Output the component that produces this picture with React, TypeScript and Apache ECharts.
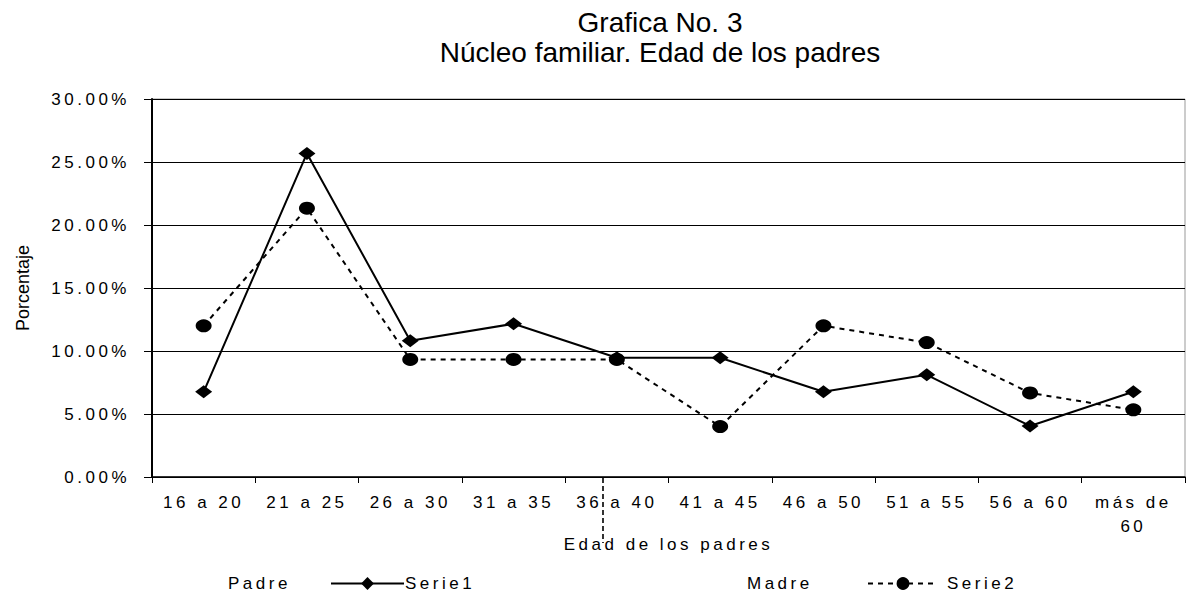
import React, { useEffect, useRef } from "react";
import * as echarts from "echarts";

const categories = ["16 a 20", "21 a 25", "26 a 30", "31 a 35", "36 a 40", "41 a 45", "46 a 50", "51 a 55", "56 a 60", "más de 60"];
const serie1 = [6.76, 25.68, 10.81, 12.16, 9.46, 9.46, 6.76, 8.11, 4.05, 6.76];
const serie2 = [12.0, 21.33, 9.33, 9.33, 9.33, 4.0, 12.0, 10.67, 6.67, 5.33];
const yMin = 0;
const yMax = 30;
const yStep = 5;
const titleLines = ["Grafica No. 3", "Núcleo familiar. Edad de los padres"];
const xAxisName = "Edad de los padres";
const yAxisName = "Porcentaje";
const legendLabels = ["Padre", "Madre"];
const seriesNames = ["Serie1", "Serie2"];

const SP = "'Liberation Sans', Arial, sans-serif";

export default function App() {
  const ref = useRef<HTMLDivElement>(null);
  useEffect(() => {
    if (!ref.current) return;
    const chart = echarts.init(ref.current, undefined, { renderer: "svg" });
    const lab = { fontSize: 17, color: "#000", fontFamily: SP };
    chart.setOption({
      animation: false,
      backgroundColor: "#fff",
      title: {
        text: titleLines.join("\n"),
        left: 655,
        top: 2,
        textAlign: "center",
        textStyle: { fontSize: 28, lineHeight: 30, fontWeight: "normal", color: "#000", fontFamily: "Arial, 'Liberation Sans', sans-serif" },
      },
      grid: { left: 152, right: 1, top: 99, bottom: 119, show: true, borderColor: "#999", borderWidth: 1, backgroundColor: "transparent" },
      legend: [
        {
          data: [seriesNames[0]],
          left: 330,
          top: 575,
          padding: 0,
          itemWidth: 73,
          itemHeight: 16,
          itemGap: 0,
          textStyle: { ...lab, padding: [0, 0, 0, -4] },
        },
        {
          data: [seriesNames[1]],
          left: 867,
          top: 575,
          padding: 0,
          itemWidth: 70,
          itemHeight: 16,
          itemGap: 0,
          textStyle: { ...lab, padding: [0, 0, 0, 4] },
        },
      ],
      xAxis: {
        type: "category",
        data: categories,
        boundaryGap: true,
        name: xAxisName,
        nameLocation: "middle",
        nameGap: 59,
        nameMoveOverlap: false,
        nameTextStyle: { ...lab },
        axisLine: { lineStyle: { color: "#000", width: 1.5 } },
        axisTick: { show: true, length: 6, lineStyle: { color: "#000" } },
        axisLabel: {
          ...lab,
          interval: 0,
          margin: 13,
          lineHeight: 24,
          formatter: (v: string) => v.replace("más de ", "más de\n"),
        },
      },
      yAxis: {
        type: "value",
        min: yMin,
        max: yMax,
        interval: yStep,
        name: yAxisName,
        nameLocation: "middle",
        nameRotate: 90,
        nameGap: 120,
        nameTextStyle: { fontSize: 18, color: "#000", fontFamily: "Arial, 'Liberation Sans', sans-serif" },
        axisLine: { show: true, lineStyle: { color: "#000", width: 2 } },
        axisTick: { show: true, length: 8, lineStyle: { color: "#000" } },
        axisLabel: { ...lab, margin: 22, formatter: (v: number) => v.toFixed(2) + "%" },
        splitLine: { show: true, lineStyle: { color: "#000", width: 1 } },
      },
      series: [
        {
          name: seriesNames[0],
          type: "line",
          data: serie1,
          symbol: "diamond",
          symbolSize: [17, 13],
          lineStyle: { color: "#000", width: 2 },
          itemStyle: { color: "#000" },
        },
        {
          name: seriesNames[1],
          type: "line",
          data: serie2,
          symbol: "circle",
          symbolSize: [16, 13],
          lineStyle: { color: "#000", width: 2, type: [5, 5] },
          itemStyle: { color: "#000" },
        },
      ],
      graphic: [
        {
          type: "text",
          left: 228,
          top: 575,
          style: { text: legendLabels[0], fontSize: 17, fill: "#000", fontFamily: SP },
        },
        {
          type: "text",
          left: 747,
          top: 575,
          style: { text: legendLabels[1], fontSize: 17, fill: "#000", fontFamily: SP },
        },
        {
          type: "line",
          shape: { x1: 603, y1: 478, x2: 603, y2: 543 },
          style: { stroke: "#000", lineWidth: 1.6, lineDash: [5, 3] },
        },
      ],
    });
    return () => chart.dispose();
  }, []);
  return (
    <>
      <style>{`#root svg text[style*="17px"] { letter-spacing: 3.5px; }`}</style>
      <div ref={ref} style={{ position: "absolute", left: 0, top: 0, width: 1186, height: 596 }} />
    </>
  );
}
